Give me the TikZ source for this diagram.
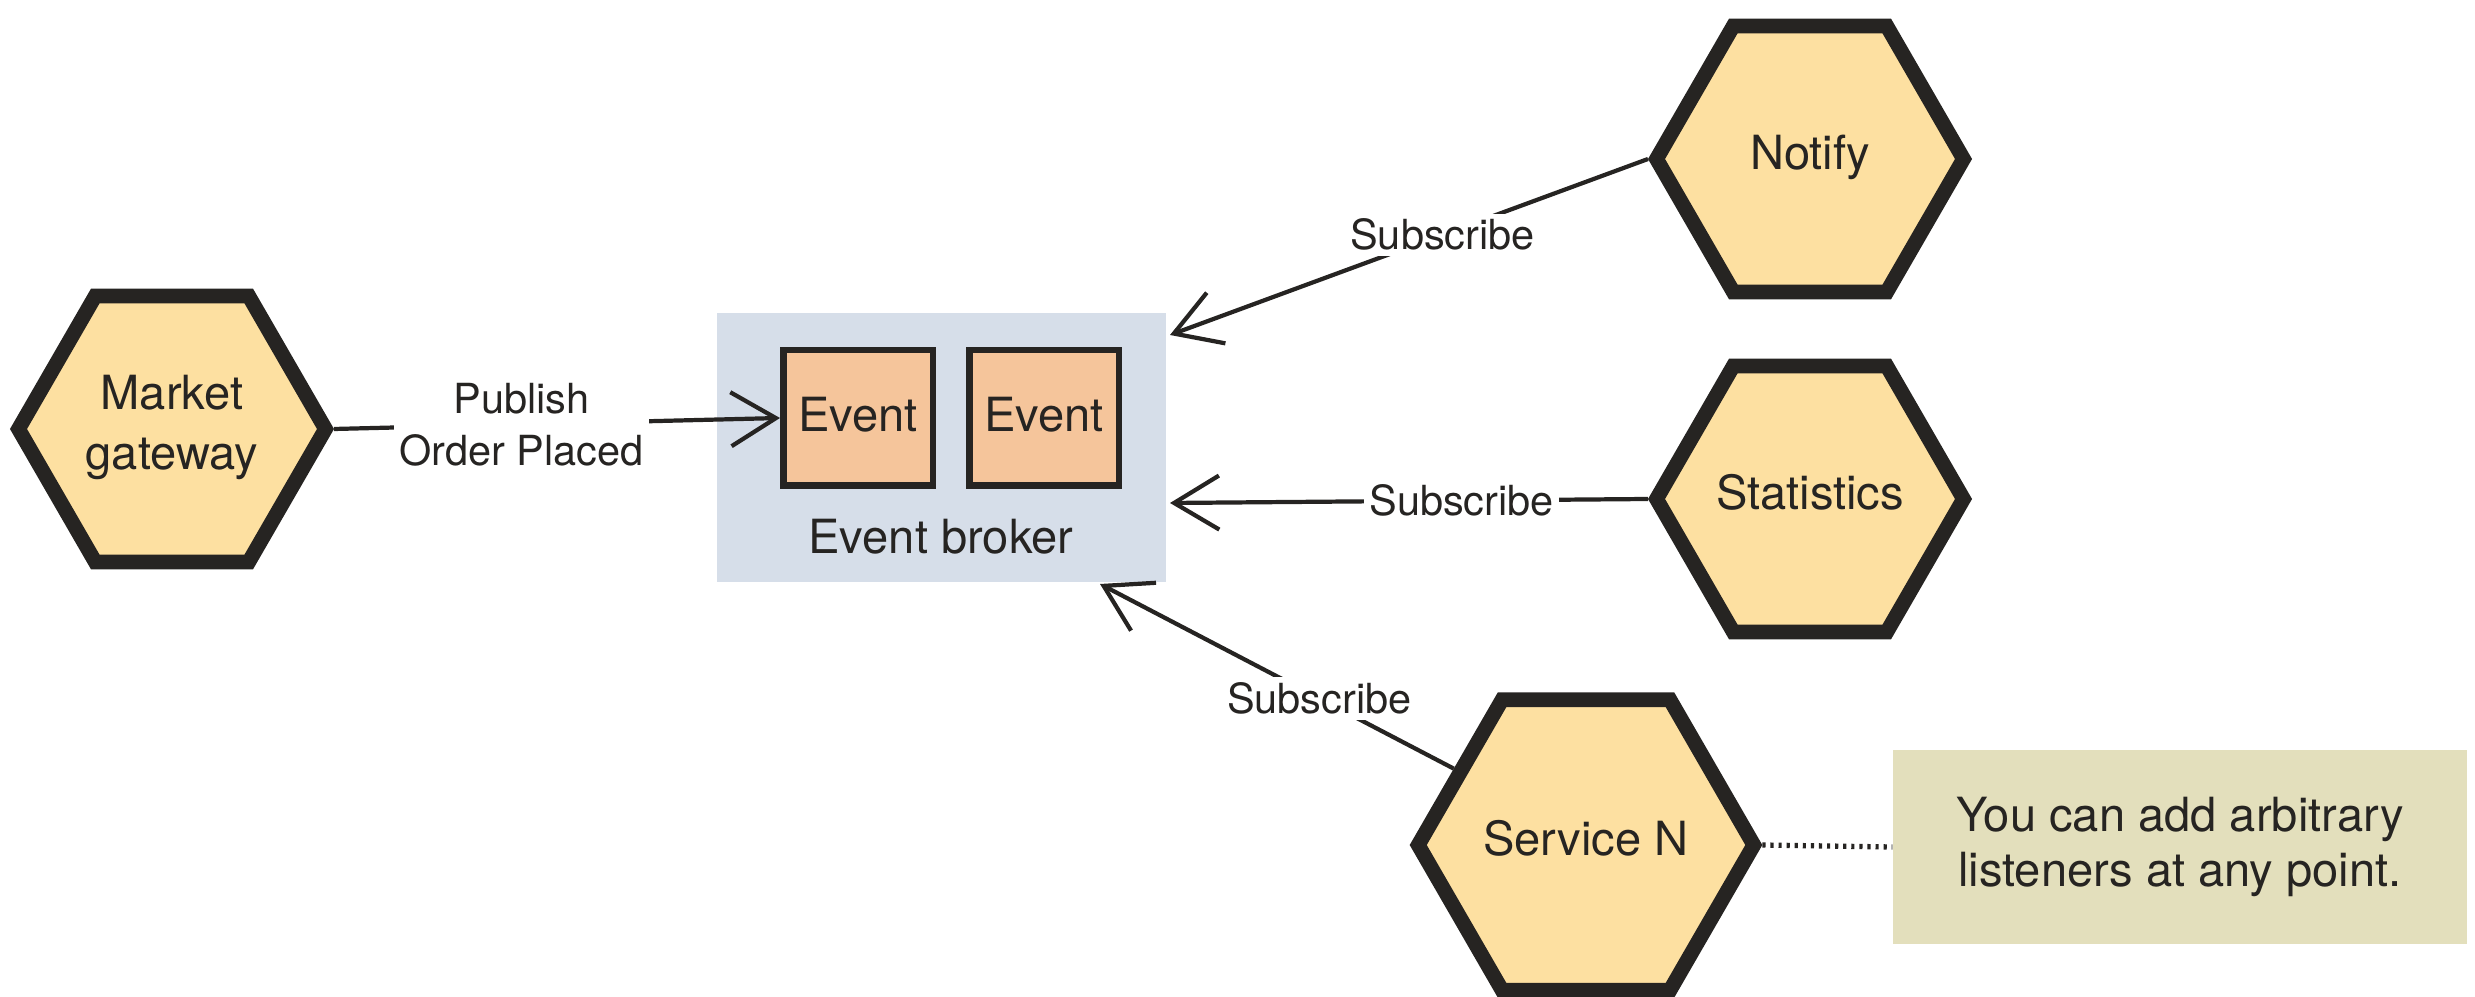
\documentclass[tikz,border=0pt]{standalone}
\usepackage{fontspec}
\setmainfont{TeX Gyre Heros}
\usepackage{xcolor}
\usepackage{tikz}
\usetikzlibrary{positioning,arrows.meta,shapes.geometric,calc}
\definecolor{ink}{HTML}{262422}
\definecolor{hexfill}{HTML}{FDE0A1}
\definecolor{eventfill}{HTML}{F5C59B}
\definecolor{brokerfill}{HTML}{D6DEE9}
\definecolor{notefill}{HTML}{E3DFBC}
\tikzset{
hexnode/.style={
draw=ink,
line width=4.2pt,
regular polygon,
regular polygon sides=6,
minimum size=3.07cm,
inner sep=0pt,
text depth=0.14cm,
align=center,
fill=hexfill,
text=ink,
font=\fontsize{13.4}{17}\selectfont
},
eventbox/.style={
draw=ink,
line width=1.85pt,
minimum width=1.495cm,
minimum height=1.355cm,
text depth=0.08cm,
fill=eventfill,
text=ink,
font=\fontsize{13.4}{16}\selectfont
},
brokerbox/.style={
fill=brokerfill,
minimum width=4.49cm,
minimum height=2.69cm
},
notebox/.style={
fill=notefill,
minimum width=5.74cm,
minimum height=1.94cm,
align=center,
text=ink,
font=\fontsize{13.4}{15.7}\selectfont
},
arrow/.style={
-{Straight Barb[length=4.5mm,width=5.4mm]},
draw=ink,
line width=1.2pt
},
sublabel/.style={
fill=white,
inner sep=1.5pt,
align=center,
text=ink,
font=\fontsize{11.8}{14.8}\selectfont
}
}

\begin{document}
\begin{tikzpicture}[node distance=0.3cm]
\useasboundingbox (0,0) rectangle (24.75,9.96);
\node[hexnode](gateway) at (1.72,5.67){Market\\gateway};
\node[hexnode](notify) at (18.10,8.37){Notify};
\node[hexnode](stats) at (18.10,4.97){Statistics};
\node[hexnode](service) at (15.86,1.51){Service N};

\node[brokerbox](broker) at (9.415,5.485){};
\node[eventbox](ev1) at (8.58,5.78){Event};
\node[eventbox,right=of ev1](ev2){Event};
\node[text=ink,font=\fontsize{13.4}{16}\selectfont](brokername) at (9.41,4.59){Event broker};

\node[notebox](note) at (21.80,1.49){You can add arbitrary\\listeners at any point.};

\coordinate (in1) at (11.70,6.61);
\coordinate (in2) at (11.70,4.93);
\coordinate (in3) at (11.00,4.12);

\draw[arrow](gateway.east) -- node[sublabel,pos=0.42]{Publish\\Order Placed} (ev1.west);
\draw[arrow](notify.west) -- node[sublabel,pos=0.43]{Subscribe} (in1);
\draw[arrow](stats.west) -- node[sublabel,pos=0.39]{Subscribe} (in2);
\draw[arrow](service.150) -- node[sublabel,pos=0.38]{Subscribe} (in3);
\draw[ink,line width=1.5pt,dash pattern=on 0.9pt off 1.4pt](service.east) -- (note.west);
\end{tikzpicture}
\end{document}
